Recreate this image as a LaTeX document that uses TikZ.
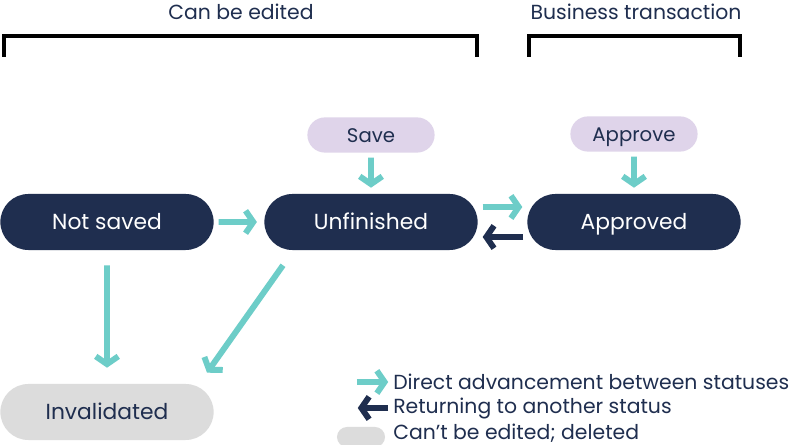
\documentclass[tikz,border=0pt]{standalone}
\usepackage{fontspec}
\setmainfont{Poppins}
\usetikzlibrary{arrows.meta,shapes.misc}
\definecolor{navy}{HTML}{1F2E4F}
\definecolor{tealgreen}{HTML}{6DCDC8}
\definecolor{lilac}{HTML}{DFD4EA}
\definecolor{greyish}{HTML}{DCDCDC}

\begin{document}
\begin{tikzpicture}[x=0.025cm,y=-0.025cm,
    status/.style={rounded rectangle,fill=navy,text=white,inner sep=0pt,
      minimum width=5.33cm,minimum height=1.4cm,text height=11pt,text depth=0pt,
      font=\fontsize{15.5}{19}\selectfont},
    action/.style={rounded rectangle,fill=lilac,text=navy,inner sep=0pt,
      minimum width=3.18cm,minimum height=0.88cm,text height=10pt,text depth=0pt,
      font=\fontsize{14}{17}\selectfont},
    fwd/.style={tealgreen,line width=4.2pt,-{Straight Barb[length=5.5pt,width=16pt]}},
    back/.style={navy,line width=4.2pt,-{Straight Barb[length=5.5pt,width=16pt]}},
    bracket/.style={black,line width=2.2pt},
    legend/.style={navy,anchor=west,inner sep=0pt,font=\fontsize{14.5}{17}\selectfont}]
        \clip (0,0) rectangle (798,445);
        \fill[white] (0,0) rectangle (798,445);
        % brackets on top
        \node[navy,font=\fontsize{14.5}{17}\selectfont] (edit) at (241,12) {Can be edited};
        \node[navy,font=\fontsize{14.5}{17}\selectfont] (biz) at (636,12) {Business transaction};
        \draw[bracket] (4,57) |- (477,36) -- (477,57);
        \draw[bracket] (529,57) |- (740,36) -- (740,57);
        % statuses
        \node[status] (notsaved) at (107,222) {Not saved};
        \node[status] (unf) at (371,222) {Unfinished};
        \node[status] (appr) at (634,222) {Approved};
        \node[status,fill=greyish,text=navy] (invalid) at (107,412) {Invalidated};
        % actions
        \node[action] (save) at (371,135) {Save};
        \node[action] (approve) at (634,134) {Approve};
        % arrows
        \draw[fwd,shorten <=0.12cm,shorten >=0.15cm] (save) -- (unf);
        \draw[fwd,shorten <=0.12cm,shorten >=0.15cm] (approve) -- (appr);
        \draw[fwd,shorten <=0.12cm,shorten >=0.18cm] (notsaved) -- (unf);
        \draw[fwd,shorten <=0.12cm,shorten >=0.12cm] ([yshift=0.375cm]unf.east) -- ([yshift=0.375cm]appr.west);
        \draw[back,shorten <=0.1cm,shorten >=0.12cm] ([yshift=-0.375cm]appr.west) -- ([yshift=-0.375cm]unf.east);
        \draw[fwd,shorten <=0.375cm,shorten >=0.4cm] (notsaved) -- (invalid);
        \draw[fwd] ([xshift=-2.2cm,yshift=-0.375cm]unf.south) -- ([xshift=2.5cm,yshift=0.275cm]invalid.north);
        % legend
        \node[legend] (lg1) at (393,382) {Direct advancement between statuses};
        \node[legend] (lg2) at (393,408) {Returning to another status};
        \node[legend] (lg3) at (393,433) {Can’t be edited; deleted};
        \draw[fwd] ([xshift=-0.9cm]lg1.west) -- ([xshift=-0.12cm]lg1.west);
        \draw[back] ([xshift=-0.12cm]lg2.west) -- ([xshift=-0.88cm]lg2.west);
        \node[rounded rectangle,fill=greyish,inner sep=0pt,minimum width=1.2cm,minimum height=0.5cm] (swatch) at (361,437) {};
      \end{tikzpicture}
\end{document}
